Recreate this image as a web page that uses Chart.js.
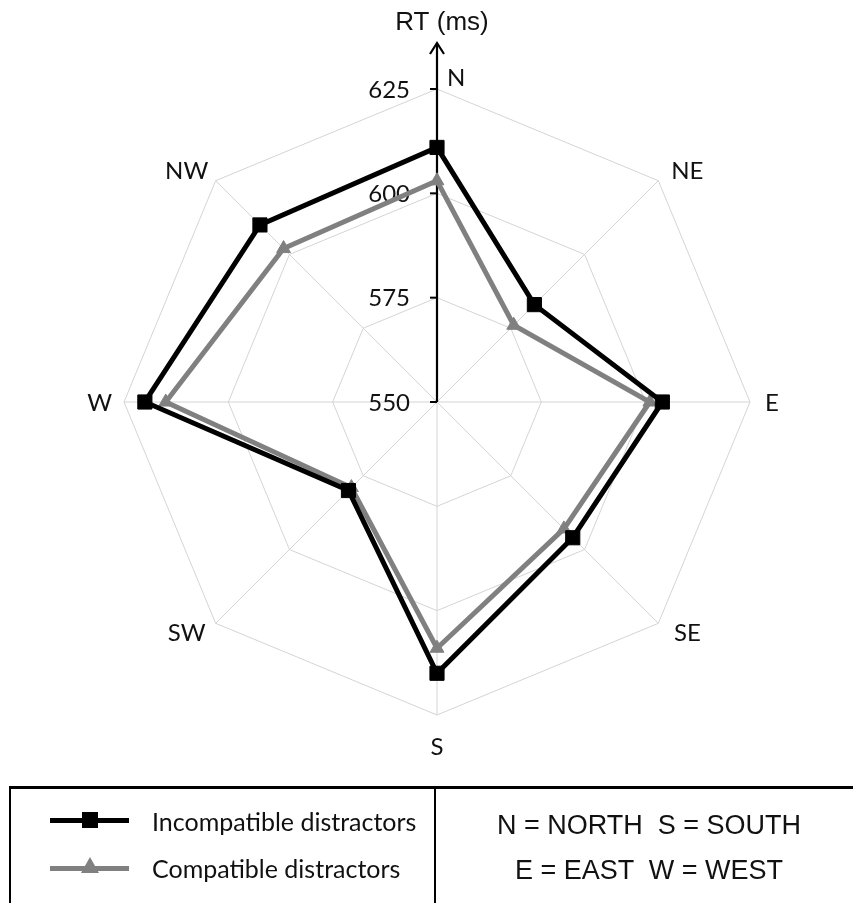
<!DOCTYPE html>
<html><head><meta charset="utf-8">
<script src="https://cdn.jsdelivr.net/npm/chart.js@4"></script>
<style>
html,body{margin:0;padding:0;background:#fff;overflow:hidden}
#wrap{position:relative;width:853px;height:903px;overflow:hidden}
canvas{position:absolute;left:0;top:0}
#box{position:absolute;left:9px;top:786px;width:900px;height:200px;border-top:3px solid #000;border-left:2px solid #000}
#divider{position:absolute;left:434px;top:786px;width:2px;height:200px;background:#000}
.ln{position:absolute;height:5px}
.txt{position:absolute;white-space:pre;font-family:Lato,sans-serif;font-size:25px;line-height:30px;color:#111}
.note{position:absolute;left:436px;width:426px;text-align:center;white-space:pre;font-family:"Liberation Sans",Arial,sans-serif;font-size:27px;line-height:30px;color:#111}
</style></head>
<body><div id="wrap"><canvas id="c" width="853" height="903"></canvas>
<div id="box"></div><div id="divider"></div>
<div class="ln" style="left:50px;top:818px;width:79px;background:#000"></div>
<div style="position:absolute;left:82px;top:812px;width:16px;height:16px;background:#000"></div>
<div class="txt" id="t1" style="left:152px;top:806px"></div>
<div class="ln" style="left:50px;top:866px;width:79px;background:#808080"></div>
<svg style="position:absolute;left:81px;top:857px" width="18" height="16"><polygon points="9,0 18,16 0,16" fill="#808080"/></svg>
<div class="txt" id="t2" style="left:152px;top:853px"></div>
<div class="note" id="n1" style="top:810px"></div>
<div class="note" id="n2" style="top:855px"></div>
</div>
<script>
const categories = ['N','NE','E','SE','S','SW','W','NW'];
const incompatible = [611,583,604,596,615,580,620,610];
const compatible = [603,576,601,593,609,579,615,602];
const tickValues = [550,575,600,625];
const axisTitle = 'RT (ms)';
const seriesNames = ['Incompatible distractors','Compatible distractors'];
const legendNotes = ['N = NORTH  S = SOUTH','E = EAST  W = WEST'];

document.getElementById('t1').textContent = seriesNames[0];
document.getElementById('t2').textContent = seriesNames[1];
document.getElementById('n1').textContent = legendNotes[0];
document.getElementById('n2').textContent = legendNotes[1];

// label placement relative to each axis end: [dx, dy, align]
const labelPlace = [[10,-11,'left'],[29,-9,'center'],[15,1,'left'],[29,10,'center'],[0,32,'center'],[-29,10,'center'],[-12,1,'right'],[-29,-9,'center']];

const overlay = {
  id:'overlay',
  beforeDatasetsDraw(chart){
    const s = chart.scales.r, c = chart.ctx;
    const cx = s.xCenter, cy = s.yCenter;
    c.save();
    c.strokeStyle = '#000'; c.lineWidth = 2.2;
    const topY = cy - s.drawingArea - 46;
    c.beginPath(); c.moveTo(cx, cy); c.lineTo(cx, topY); c.stroke();
    c.beginPath(); c.moveTo(cx-7, topY+11); c.lineTo(cx, topY); c.lineTo(cx+7, topY+11); c.stroke();
    c.font = '24px Lato'; c.fillStyle = '#111'; c.textAlign = 'right'; c.textBaseline = 'middle';
    c.lineWidth = 2;
    tickValues.forEach(v => {
      const y = cy - s.getDistanceFromCenterForValue(v);
      c.beginPath(); c.moveTo(cx-7, y); c.lineTo(cx, y); c.stroke();
      c.fillText(String(v), cx-27, y+1);
    });
    c.restore();
  },
  afterDraw(chart){
    const s = chart.scales.r, c = chart.ctx;
    c.save();
    c.fillStyle = '#111'; c.textBaseline = 'middle';
    c.font = '24px Lato';
    categories.forEach((lab, i) => {
      const p = s.getPointPosition(i, s.drawingArea);
      const pl = labelPlace[i];
      c.textAlign = pl[2];
      c.fillText(lab, p.x + pl[0], p.y + pl[1]);
    });
    c.font = '26px "Liberation Sans", Arial, sans-serif';
    c.textAlign = 'center';
    c.fillText(axisTitle, s.xCenter + 5, 23);
    c.restore();
  }
};

new Chart(document.getElementById('c'), {
  type: 'radar',
  data: {
    labels: categories,
    datasets: [
      {label: seriesNames[0], data: incompatible, borderColor: '#000', backgroundColor: '#000', borderWidth: 5,
       pointStyle: 'rect', pointRadius: 10, pointBackgroundColor: '#000', pointBorderColor: '#000', pointBorderWidth: 1, fill: false},
      {label: seriesNames[1], data: compatible, borderColor: '#808080', backgroundColor: '#808080', borderWidth: 5,
       pointStyle: 'triangle', pointRadius: 8, pointBackgroundColor: '#808080', pointBorderColor: '#808080', pointBorderWidth: 1, fill: false}
    ]
  },
  options: {
    responsive: false, animation: false,
    layout: {padding: {left: 124, right: 103, top: 89, bottom: 188}},
    plugins: {legend: {display: false}, tooltip: {enabled: false}},
    elements: {line: {tension: 0}},
    scales: {
      r: {
        min: 550, max: 625,
        ticks: {stepSize: 25, display: false},
        grid: {color: '#d4d4d4', lineWidth: 1, circular: false},
        angleLines: {display: true, color: '#d4d4d4', lineWidth: 1},
        pointLabels: {display: false}
      }
    }
  },
  plugins: [overlay]
});
</script>
</body></html>
